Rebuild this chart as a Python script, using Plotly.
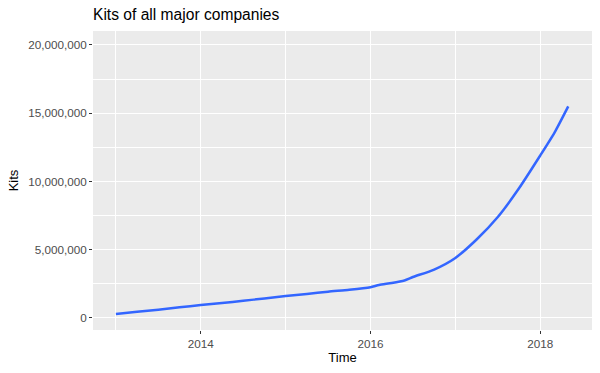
import plotly.graph_objects as go

# Decimal years and kits
years = [2013.0, 2013.25, 2013.5, 2013.75, 2014.0, 2014.25, 2014.5, 2014.75,
         2015.0, 2015.25, 2015.5, 2015.75, 2016.0, 2016.1, 2016.25, 2016.4,
         2016.5, 2016.75, 2017.0, 2017.25, 2017.5, 2017.75, 2018.0, 2018.17, 2018.33]
kits = [300000, 450000, 610000, 780000, 950000, 1100000, 1260000, 1430000,
        1610000, 1760000, 1930000, 2060000, 2250000, 2420000, 2560000, 2750000,
        3000000, 3550000, 4400000, 5750000, 7400000, 9500000, 11900000, 13600000, 15500000]

x_ticks = [2014, 2016, 2018]
y_ticks = [0, 5000000, 10000000, 15000000, 20000000]

fig = go.Figure()
fig.add_trace(go.Scatter(x=years, y=kits, mode="lines",
                         line=dict(color="#3366FF", width=2.5, shape="spline", smoothing=0.6),
                         hoverinfo="skip", showlegend=False))

fig.update_layout(
    width=600, height=373,
    margin=dict(l=93, r=8, t=31, b=43, autoexpand=False),
    paper_bgcolor="white", plot_bgcolor="#EBEBEB",
    font=dict(family="Liberation Sans, Arial, sans-serif"),
    title=dict(text="Kits of all major companies", x=93/600, xanchor="left",
               y=1 - 15/373, yanchor="middle",
               font=dict(size=15.6, color="black")),
)
fig.update_xaxes(
    range=[2012.73, 2018.61], tickvals=x_ticks, ticktext=[str(v) for v in x_ticks],
    showgrid=True, gridcolor="white", gridwidth=1.1, zeroline=False,
    ticks="outside", ticklen=3, tickcolor="#333333", tickwidth=1,
    tickfont=dict(size=11.7, color="#4D4D4D"), automargin=False,
    minor=dict(tickvals=[2013, 2015, 2017], showgrid=True, gridcolor="white", gridwidth=0.5, ticks=""),
    title=dict(text="Time", font=dict(size=13, color="black"), standoff=3),
    showline=False,
)
fig.update_yaxes(
    range=[-880000, 21020000], tickvals=y_ticks, tickformat=",",
    showgrid=True, gridcolor="white", gridwidth=1.1, zeroline=False,
    ticks="outside", ticklen=3, tickcolor="#333333", tickwidth=1,
    tickfont=dict(size=11.7, color="#4D4D4D"), automargin=False,
    minor=dict(tickvals=[2500000, 7500000, 12500000, 17500000], showgrid=True,
               gridcolor="white", gridwidth=0.5, ticks=""),
    title=dict(text="Kits", font=dict(size=13, color="black"), standoff=6),
    showline=False,
)

fig.write_html("out.html", config={"displayModeBar": False},
               post_script="document.body.style.margin='0px';")
